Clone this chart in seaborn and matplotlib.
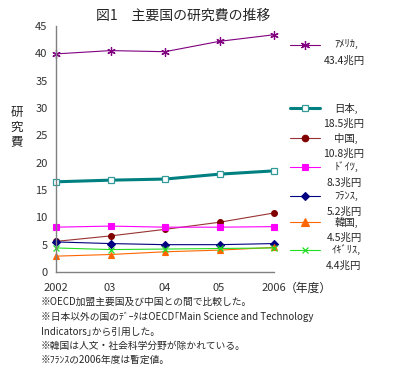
import matplotlib
matplotlib.use("Agg")
import matplotlib.pyplot as plt
from matplotlib.lines import Line2D
import seaborn as sns
import pandas as pd

years = ["2002", "03", "04", "05", "2006"]
usa = [39.9, 40.5, 40.3, 42.2, 43.4]
japan = [16.5, 16.8, 17.0, 17.9, 18.5]
china = [5.6, 6.6, 7.8, 9.1, 10.8]
germany = [8.2, 8.4, 8.2, 8.2, 8.3]
france = [5.5, 5.2, 5.0, 5.0, 5.2]
korea = [2.9, 3.2, 3.7, 4.0, 4.5]
uk = [4.4, 4.1, 4.2, 4.3, 4.4]

names = ["ｱﾒﾘｶ,", "日本,", "中国,", "ﾄﾞｲﾂ,", "ﾌﾗﾝｽ,", "韓国,", "ｲｷﾞﾘｽ,"]
totals = ["43.4兆円", "18.5兆円", "10.8兆円", "8.3兆円", "5.2兆円", "4.5兆円", "4.4兆円"]
series = [usa, japan, china, germany, france, korea, uk]

title = "図1　主要国の研究費の推移"
ylabel = "研\n究\n費"
unit = "（年度）"
notes = [
    "※OECD加盟主要国及び中国との間で比較した。",
    "※日本以外の国のﾃﾞｰﾀはOECD｢Main Science and Technology",
    "Indicators｣から引用した。",
    "※韓国は人文・社会科学分野が除かれている。",
    "※ﾌﾗﾝｽの2006年度は暫定値。",
]

styles = [
    dict(color="#800080", lw=0.8, marker=(6, 2, 0), ms=6, mfc="#800080", mec="#800080", mew=0.9),
    dict(color="#008080", lw=2.2, marker="s", ms=4.5, mfc="white", mec="#339999", mew=0.9),
    dict(color="#993333", lw=0.8, marker="o", ms=4.2, mfc="#800000", mec="#800000", mew=0.8),
    dict(color="#FF00FF", lw=0.8, marker="s", ms=4.5, mfc="#FF00FF", mec="#FF00FF", mew=0.8),
    dict(color="#000080", lw=0.8, marker="D", ms=3.8, mfc="#000080", mec="#000080", mew=0.8),
    dict(color="#FF6600", lw=0.8, marker="^", ms=5, mfc="#FF6600", mec="#FF6600", mew=0.8),
    dict(color="#22DD22", lw=0.8, marker="x", ms=4.5, mfc="#22DD22", mec="#22DD22", mew=0.9),
]

sns.set_style("white")
plt.rcParams["font.family"] = ["Noto Sans CJK JP", "DejaVu Sans"]

W, H = 403, 376
fig = plt.figure(figsize=(W / 100, H / 100), dpi=100)
ax = fig.add_axes([56 / W, 1 - 272 / H, (274 - 56) / W, (272 - 26) / H])

xpos = list(range(len(years)))
for vals, st in zip(series, styles):
    df = pd.DataFrame({"x": xpos, "y": vals})
    sns.lineplot(data=df, x="x", y="y", ax=ax, color=st["color"], linewidth=st["lw"],
                 marker=st["marker"], markersize=st["ms"], markerfacecolor=st["mfc"],
                 markeredgecolor=st["mec"], markeredgewidth=st["mew"], clip_on=False)

ax.set_xlim(0, 4)
ax.set_ylim(0, 45)
ax.set_yticks(range(0, 46, 5))
ax.set_xticks(xpos)
ax.set_xticklabels([])
ax.set_xlabel("")
ax.set_ylabel("")
for s in ["top", "right"]:
    ax.spines[s].set_visible(False)
for s in ["left", "bottom"]:
    ax.spines[s].set_color("#808080")
    ax.spines[s].set_linewidth(1.0)
ax.tick_params(axis="y", direction="in", length=3, color="#808080", labelsize=8, pad=6,
               labelcolor="#333333")
ax.tick_params(axis="x", direction="in", length=3, color="#808080")

def px(x, y):
    return (x / W, 1 - y / H)

# x tick labels
xl = [56, 110, 165, 219, 274]
for lab, x in zip(years, xl):
    fig.text(*px(x, 288), lab, ha="center", va="center", fontsize=8, color="#333333")
fig.text(*px(308, 288), unit, ha="center", va="center", fontsize=8.5)

fig.text(*px(183, 16), title, ha="center", va="center", fontsize=10)
fig.text(*px(17, 127), ylabel, ha="center", va="center", fontsize=9, linespacing=1.15)

# legend
leg_y = [45, 108, 138, 167, 196, 222, 250]
for name, tot, st, y in zip(names, totals, styles, leg_y):
    fig.add_artist(Line2D([290 / W, 320 / W], [1 - y / H, 1 - y / H], transform=fig.transFigure,
                          color=st["color"], lw=st["lw"]))
    fig.add_artist(Line2D([305 / W], [1 - y / H], transform=fig.transFigure,
                          marker=st["marker"], ms=st["ms"] + 0.5, mfc=st["mfc"], mec=st["mec"],
                          mew=st["mew"], lw=0))
    fig.text(*px(346, y), name, ha="center", va="center", fontsize=7.5)
    fig.text(*px(344, y + 16), tot, ha="center", va="center", fontsize=7.5)

note_y = [302, 317, 332, 346, 360]
for t, y in zip(notes, note_y):
    fig.text(*px(41, y), t, ha="left", va="center", fontsize=7)

fig.savefig("out.png", dpi=100, facecolor="white")
